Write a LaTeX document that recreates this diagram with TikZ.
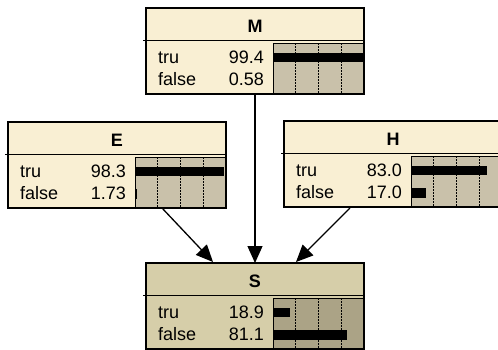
\documentclass[tikz,border=0pt]{standalone}
\usepackage{fontspec}
\setmainfont{Liberation Sans}
\usetikzlibrary{arrows.meta}
\definecolor{headc}{HTML}{F9EFD3}
\definecolor{barc}{HTML}{C9C1AA}
\definecolor{headsc}{HTML}{D6CEA9}
\definecolor{barsc}{HTML}{ABA386}
\tikzset{box/.style={draw,line width=1.3pt,minimum width=218pt,minimum height=86pt,inner sep=0pt,outer sep=0pt},
  lbl/.style={inner sep=0pt,font=\fontsize{18}{20}\selectfont},
  arr/.style={line width=1.3pt,-{Triangle[length=17pt,width=15pt]}}}

% one belief box: name, x, y, title, tru value, false value, tru %, false %, colour suffix
\newcommand{\beliefnode}[9]{%
  \begin{scope}[shift={(#2,#3)}]
    \node[box,fill=head#9,anchor=north west] (#1) at (0,0) {};
    \fill[bar#9] (127,35) rectangle (218,86);
    \foreach \q in {22.75,45.5,68.25}
      \draw[line width=1.2pt,dash pattern=on 1.5pt off 1.5pt] (127+\q,35) -- (127+\q,86);
    \pgfmathsetmacro\wt{0.91*#7}
    \pgfmathsetmacro\wf{0.91*#8}
    \fill (127,44.5) rectangle ++(\wt,9.5);
    \fill (127,67) rectangle ++(\wf,9.5);
    \draw[line width=1pt] (127,86) -- (127,35) -- (218,35);
    \draw[line width=1pt] (-3,32) -- (218,32);
    \node[lbl,anchor=base,font=\fontsize{18}{20}\selectfont\bfseries] at (109,24) {#4};
    \node[lbl,anchor=base west] at (12,55) {tru};
    \node[lbl,anchor=base west] at (12,77) {false};
    \node[lbl,anchor=base east] at (118,55) {#5};
    \node[lbl,anchor=base east] at (118,77) {#6};
    \draw[line width=1.3pt] (0,0) rectangle (218,86);
  \end{scope}}

\begin{document}
\begin{tikzpicture}[x=1pt,y=-1pt]
  \useasboundingbox (0,0) rectangle (498,349);
  \beliefnode{M}{146}{8}{M}{99.4}{0.58}{99.4}{0.58}{c}
  \beliefnode{E}{8}{122}{E}{98.3}{1.73}{98.3}{1.73}{c}
  \beliefnode{H}{284}{121}{H}{83.0}{17.0}{83.0}{17.0}{c}
  \beliefnode{S}{146}{263}{S}{18.9}{81.1}{18.9}{81.1}{sc}
  % arrow ends
  \coordinate (eout) at (162,208);
  \coordinate (hout) at (350,208);
  \coordinate (sinl) at (213,262);
  \coordinate (sinr) at (296,262);
  \draw[arr] (M.south) -- (S.north);
  \draw[arr] (eout) -- (sinl);
  \draw[arr] (hout) -- (sinr);
\end{tikzpicture}
\end{document}
